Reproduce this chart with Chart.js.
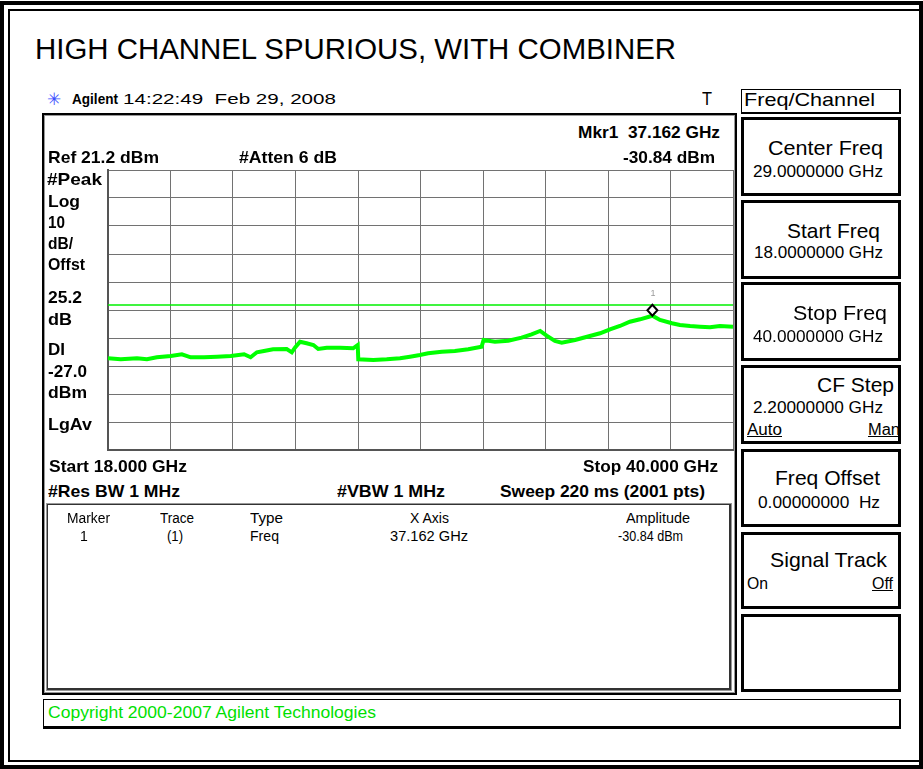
<!DOCTYPE html>
<html>
<head>
<meta charset="utf-8">
<script src="https://cdn.jsdelivr.net/npm/chart.js@4.4.1/dist/chart.umd.min.js"></script>
<style>
  html,body{margin:0;padding:0;background:#fff;}
  body{width:923px;height:769px;position:relative;overflow:hidden;font-family:"Liberation Sans",Arial,sans-serif;}
  .box{position:absolute;box-sizing:border-box;}
  .t{position:absolute;line-height:1;white-space:pre;transform-origin:0 0;color:#000;}
  .b{font-weight:bold;}
  .u{text-decoration:underline;}
  #plotWrap{position:absolute;left:98px;top:160px;width:645px;height:300px;}
</style>
</head>
<body>
<script>
// ---------------- data ----------------
const freqGHz = [18.00, 18.45, 19.02, 19.37, 19.72, 20.21, 20.60, 20.91, 21.38, 21.84, 22.32, 22.79, 23.02, 23.24, 23.49, 23.81, 24.29, 24.47, 24.58, 24.76, 24.99, 25.23, 25.40, 25.70, 26.17, 26.63, 26.79, 26.81, 27.34, 27.81, 28.28, 28.63, 28.98, 29.27, 29.75, 30.21, 30.68, 31.15, 31.22, 31.62, 32.09, 32.56, 32.91, 33.21, 33.44, 33.73, 33.97, 34.44, 35.32, 35.67, 36.02, 36.37, 36.73, 37.162, 37.43, 37.85, 38.13, 38.49, 38.84, 39.19, 39.54, 40.00];
const traceDbm = [-46.05, -46.41, -46.05, -46.41, -45.69, -45.23, -44.62, -45.69, -45.69, -45.48, -45.23, -44.62, -45.69, -43.91, -43.44, -42.84, -42.73, -43.91, -42.26, -40.12, -40.69, -41.30, -42.73, -42.26, -42.26, -42.48, -41.30, -46.41, -46.66, -46.41, -46.05, -45.48, -44.87, -44.26, -43.69, -43.44, -42.84, -41.91, -39.51, -40.12, -39.76, -38.69, -37.48, -36.30, -37.98, -39.87, -40.48, -39.51, -37.12, -35.69, -34.51, -32.98, -32.12, -30.84, -32.37, -33.55, -34.16, -34.51, -34.76, -34.98, -34.51, -34.76];
const xGridGHz = [18, 20.2, 22.4, 24.6, 26.8, 29, 31.2, 33.4, 35.6, 37.8, 40];
const yGridDbm = [21.2, 11.2, 1.2, -8.8, -18.8, -28.8, -38.8, -48.8, -58.8, -68.8, -78.8];
const displayLineDbm = -27.0;
const markerFreqGHz = 37.162;
const markerDbm = -30.84;
const markerLabel = "1";
</script>

<!-- frames -->
<div class="box" style="left:0;top:1px;width:923px;height:768px;border:4px solid #000;"></div>
<div class="box" style="left:8px;top:9px;width:913px;height:753px;border:2px solid #000;"></div>

<div class="box" style="left:42px;top:113px;width:695px;height:582px;border:2px solid #000;box-shadow:inset 1px 1px 0 #999, inset -1px -1px 0 #999;"></div>
<div class="box" style="left:46px;top:503px;width:686px;height:188px;border:1px solid #999;box-shadow:inset 1px 1px 0 #333, inset -2px -2px 0 #333;"></div>
<div class="box" style="left:43px;top:699px;width:858px;height:30px;border-top:1px solid #000;border-left:1px solid #000;border-right:2px solid #000;border-bottom:3px solid #000;"></div>

<div class="box" style="left:741px;top:89px;width:160px;height:25px;border:1px solid #000;border-right-width:2px;border-bottom-width:2px;"></div>
<div class="box" style="left:741px;top:117px;width:160px;height:79px;border:3px solid #000;"></div>
<div class="box" style="left:741px;top:200px;width:160px;height:79px;border:3px solid #000;"></div>
<div class="box" style="left:741px;top:282px;width:160px;height:79px;border:3px solid #000;"></div>
<div class="box" style="left:741px;top:365px;width:160px;height:79px;border:3px solid #000;"></div>
<div class="box" style="left:741px;top:449px;width:160px;height:78px;border:3px solid #000;"></div>
<div class="box" style="left:741px;top:532px;width:160px;height:77px;border:3px solid #000;"></div>
<div class="box" style="left:741px;top:614px;width:160px;height:78px;border:3px solid #000;"></div>

<div id="plotWrap"><canvas id="c" width="645" height="300"></canvas></div>
<div id="mkLabel" class="t" style="font-size:9px;color:#999;"></div>

<div id="texts"></div>

<script>
const T = [
  // [text, left, baseline, fontSize, width(or 0), cls, color]
  ["HIGH CHANNEL SPURIOUS, WITH COMBINER", 35, 60, 29, 641, "", "#000"],
  ["\u2733", 47, 105, 17, 0, "", "#3a4dff"],
  ["Agilent", 72, 104, 15, 46, "b", "#000"],
  ["14:22:49  Feb 29, 2008", 123, 104, 15, 213, "", "#000"],
  ["T", 702, 105, 19, 10, "", "#000"],
  ["Freq/Channel", 744, 106, 19, 131, "", "#000"],
  ["Center Freq", 768, 155, 21, 115, "", "#000"],
  ["29.0000000 GHz", 753, 177, 17, 130, "", "#000"],
  ["Start Freq", 787, 238, 21, 93, "", "#000"],
  ["18.0000000 GHz", 754, 258, 17, 129, "", "#000"],
  ["Stop Freq", 793, 320, 21, 94, "", "#000"],
  ["40.0000000 GHz", 753, 342, 17, 130, "", "#000"],
  ["CF Step", 817, 392, 21, 77, "", "#000"],
  ["2.20000000 GHz", 753, 413, 17, 130, "", "#000"],
  ["Auto", 747, 436, 16, 35, "u", "#000"],
  ["Man", 868, 436, 16, 32, "u", "#000"],
  ["Freq Offset", 775, 485, 21, 105, "", "#000"],
  ["0.00000000  Hz", 758, 508, 17, 122, "", "#000"],
  ["Signal Track", 770, 567, 21, 117, "", "#000"],
  ["On", 747, 590, 16, 21, "", "#000"],
  ["Off", 872, 590, 16, 21, "u", "#000"],
  ["Mkr1  37.162 GHz", 578, 138, 17, 142, "b", "#000"],
  ["Ref 21.2 dBm", 48, 163, 17, 111, "b", "#000"],
  ["#Atten 6 dB", 239, 163, 17, 98, "b", "#000"],
  ["-30.84 dBm", 623, 163, 17, 92, "b", "#000"],
  ["#Peak", 47, 185, 17, 55, "b", "#000"],
  ["Log", 48, 207, 17, 32, "b", "#000"],
  ["10", 48, 228, 17, 17, "b", "#000"],
  ["dB/", 48, 249, 17, 25, "b", "#000"],
  ["Offst", 48, 270, 17, 37, "b", "#000"],
  ["25.2", 48, 303, 17, 34, "b", "#000"],
  ["dB", 48, 325, 17, 24, "b", "#000"],
  ["DI", 48, 355, 17, 17, "b", "#000"],
  ["-27.0", 48, 377, 17, 39, "b", "#000"],
  ["dBm", 48, 398, 17, 39, "b", "#000"],
  ["LgAv", 48, 430, 17, 44, "b", "#000"],
  ["Start 18.000 GHz", 49, 472, 17, 138, "b", "#000"],
  ["Stop 40.000 GHz", 583, 472, 17, 135, "b", "#000"],
  ["#Res BW 1 MHz", 48, 497, 17, 132, "b", "#000"],
  ["#VBW 1 MHz", 337, 497, 17, 108, "b", "#000"],
  ["Sweep 220 ms (2001 pts)", 500, 497, 17, 205, "b", "#000"],
  ["Marker", 67, 523, 14, 43, "", "#000"],
  ["Trace", 160, 523, 14, 34, "", "#000"],
  ["Type", 250, 523, 14, 33, "", "#000"],
  ["X Axis", 410, 523, 14, 0, "", "#000"],
  ["Amplitude", 626, 523, 14, 64, "", "#000"],
  ["1", 80, 541, 14, 0, "", "#000"],
  ["(1)", 167, 541, 14, 16, "", "#000"],
  ["Freq", 250, 541, 14, 29, "", "#000"],
  ["37.162 GHz", 390, 541, 14, 78, "", "#000"],
  ["-30.84 dBm", 618, 541, 14, 65, "", "#000"],
  ["Copyright 2000-2007 Agilent Technologies", 48, 719, 16, 328, "", "#00e000"]
];
const holder = document.getElementById('texts');
T.forEach(([s, x, base, fs, w, cls, col]) => {
  const d = document.createElement('div');
  d.className = 't ' + cls;
  d.textContent = s;
  d.style.left = x + 'px';
  d.style.top = (base - 0.8465 * fs) + 'px';
  d.style.fontSize = fs + 'px';
  d.style.color = col;
  holder.appendChild(d);
  if (w) {
    const nat = d.getBoundingClientRect().width;
    if (nat > 0) d.style.transform = 'scaleX(' + (w / nat) + ')';
  }
});

// ---------------- chart ----------------
const markerPlugin = {
  id: 'marker',
  afterDatasetsDraw(chart) {
    const xs = chart.scales.x, ys = chart.scales.y, ctx = chart.ctx;
    const px = xs.getPixelForValue(markerFreqGHz);
    const py = ys.getPixelForValue(markerDbm);
    ctx.save();
    ctx.beginPath();
    ctx.moveTo(px, py - 11);
    ctx.lineTo(px + 5, py - 5.5);
    ctx.lineTo(px, py);
    ctx.lineTo(px - 5, py - 5.5);
    ctx.closePath();
    ctx.fillStyle = '#fff';
    ctx.fill();
    ctx.lineWidth = 2;
    ctx.strokeStyle = '#000';
    ctx.stroke();
    ctx.restore();
    const lab = document.getElementById('mkLabel');
    const wrap = document.getElementById('plotWrap');
    lab.textContent = markerLabel;
    lab.style.left = (wrap.offsetLeft + px - 2) + 'px';
    lab.style.top = (wrap.offsetTop + py - 27) + 'px';
  }
};

const gridCommon = {
  color: '#727272',
  lineWidth: 1,
  drawTicks: false
};

new Chart(document.getElementById('c'), {
  type: 'scatter',
  data: {
    datasets: [
      {
        label: 'Display line',
        data: [{x: xGridGHz[0], y: displayLineDbm}, {x: xGridGHz[xGridGHz.length - 1], y: displayLineDbm}],
        showLine: true,
        borderColor: '#00f000',
        borderWidth: 1.5,
        pointRadius: 0
      },
      {
        label: 'Trace 1',
        data: freqGHz.map((f, i) => ({x: f, y: traceDbm[i]})),
        showLine: true,
        borderColor: '#00ff00',
        borderWidth: 4,
        pointRadius: 0,
        tension: 0
      }
    ]
  },
  options: {
    responsive: false,
    animation: false,
    devicePixelRatio: 1,
    layout: {padding: 10},
    plugins: {legend: {display: false}, tooltip: {enabled: false}},
    scales: {
      x: {
        type: 'linear',
        min: xGridGHz[0],
        max: xGridGHz[xGridGHz.length - 1],
        afterBuildTicks: s => { s.ticks = xGridGHz.map(v => ({value: v})); },
        ticks: {display: false},
        grid: gridCommon,
        border: {display: true, color: '#555', width: 2}
      },
      y: {
        type: 'linear',
        min: yGridDbm[yGridDbm.length - 1],
        max: yGridDbm[0],
        afterBuildTicks: s => { s.ticks = yGridDbm.map(v => ({value: v})); },
        ticks: {display: false},
        grid: gridCommon,
        border: {display: true, color: '#555', width: 2}
      }
    }
  },
  plugins: [markerPlugin]
});
</script>
</body>
</html>
